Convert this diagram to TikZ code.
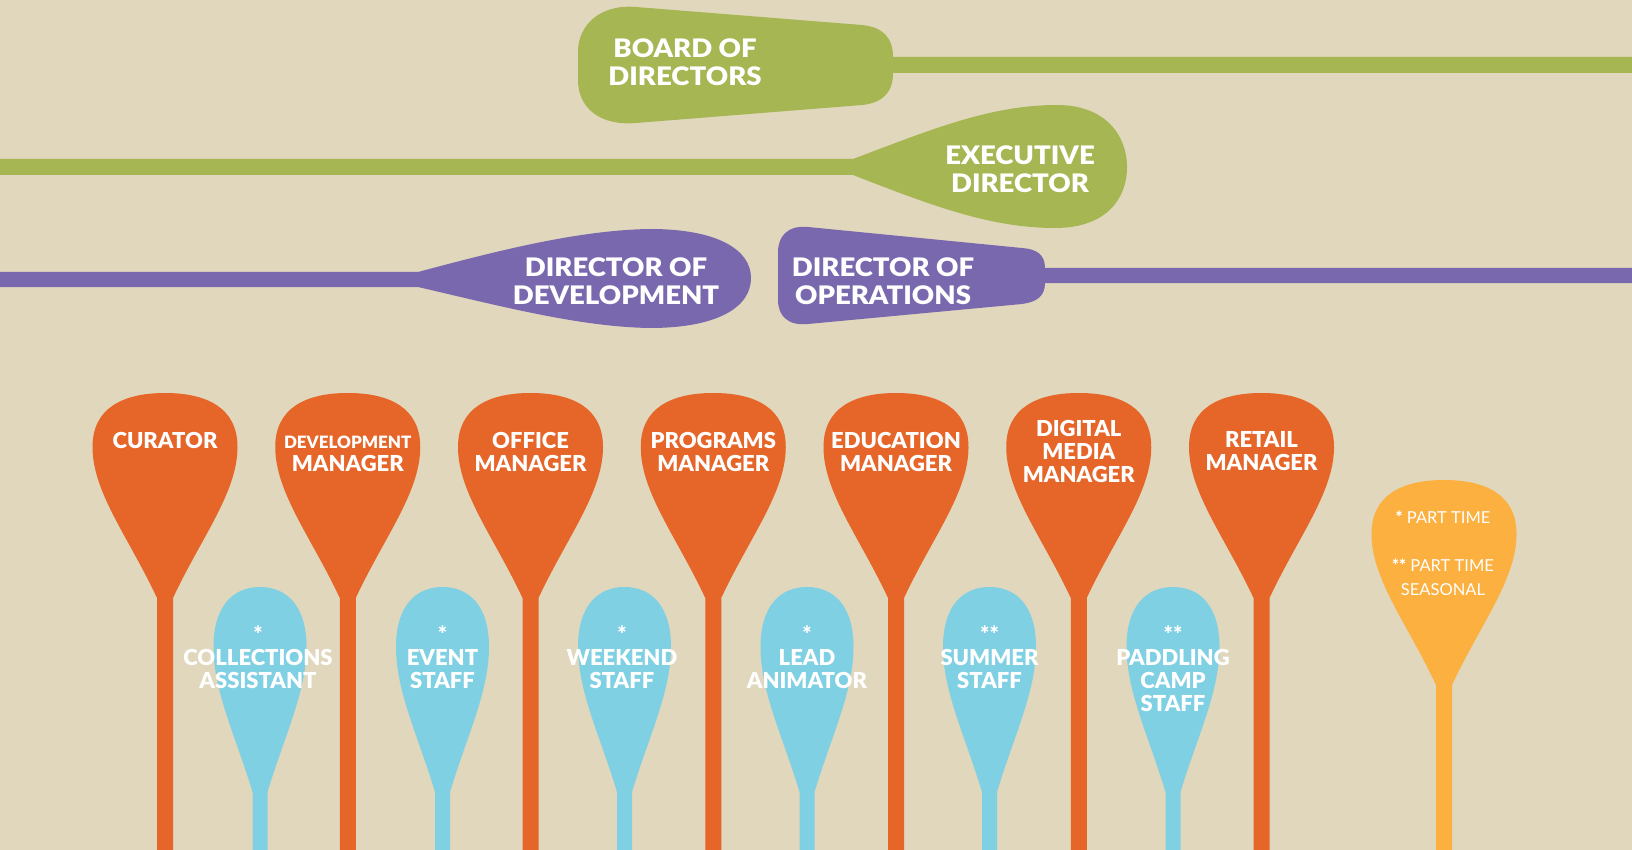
\documentclass[tikz,border=0pt]{standalone}
\usepackage{fontspec}
\setmainfont{Lato}[BoldFont={Lato Black}]
\newfontfamily\dirfont{Lato}[BoldFont={Lato Black}, FakeStretch=1.08]
\usepackage{tikz}
\definecolor{sand}{RGB}{224,215,188}
\definecolor{boardgreen}{RGB}{165,182,83}
\definecolor{dirpurple}{RGB}{122,104,174}
\definecolor{mgrorange}{RGB}{230,101,40}
\definecolor{staffblue}{RGB}{128,208,227}
\definecolor{notegold}{RGB}{251,176,64}

\begin{document}
\begin{tikzpicture}[x=1pt, y=-1pt,
	every node/.style={text=white, inner sep=0pt, align=center, font=\bfseries\fontsize{22}{23}\selectfont},
	director/.style={font=\dirfont\bfseries\fontsize{25.5}{28}\selectfont},
	note/.style={font=\fontsize{16.5}{24}\selectfont},
	blade/.pic={\fill[#1] (-8,205) .. controls (-36,145) and (-72,100) .. (-72.5,55)
		.. controls (-73,15) and (-42,0) .. (0,0)
		.. controls (42,0) and (73,15) .. (72.5,55)
		.. controls (72,100) and (36,145) .. (8,205) -- (8,470) -- (-8,470) -- cycle;},
	thinblade/.pic={\fill[#1] (-7.5,205) .. controls (-24,150) and (-46.5,105) .. (-46.5,60)
		.. controls (-46.5,18) and (-26,0) .. (0,0)
		.. controls (26,0) and (46.5,18) .. (46.5,60)
		.. controls (46.5,105) and (24,150) .. (7.5,205) -- (7.5,300) -- (-7.5,300) -- cycle;}]
	\useasboundingbox (0,0) rectangle (1632,850);
	\clip (0,0) rectangle (1632,850);
	\fill[sand] (0,0) rectangle (1632,850);

	% top three levels
	\fill[boardgreen] (893,57) .. controls (893,37) and (882,27) .. (862,25) -- (636,7)
		.. controls (600,4) and (578,25) .. (578,52) -- (578,80)
		.. controls (578,108) and (600,126) .. (636,123) -- (862,105)
		.. controls (882,103) and (893,93) .. (893,73) -- (1632,73) -- (1632,57) -- cycle;
	\fill[boardgreen] (0,159) -- (853,159) .. controls (930,130) and (990,105) .. (1057,105)
		.. controls (1105,105) and (1127,135) .. (1127,167)
		.. controls (1127,200) and (1105,228) .. (1055,228)
		.. controls (990,228) and (930,205) .. (853,175) -- (0,175) -- cycle;
	\fill[dirpurple] (0,272) -- (418,272) .. controls (500,250) and (580,230) .. (650,229)
		.. controls (718,229) and (751,250) .. (751,278)
		.. controls (751,308) and (716,328) .. (650,328)
		.. controls (580,327) and (500,306) .. (418,287) -- (0,287) -- cycle;
	\fill[dirpurple] (1045,268) .. controls (1045,255) and (1037,249) .. (1022,248) -- (808,227)
		.. controls (788,225) and (778,236) .. (778,252) -- (778,300)
		.. controls (778,316) and (788,326) .. (808,324) -- (1022,304)
		.. controls (1037,302) and (1045,296) .. (1045,283) -- (1632,283) -- (1632,268) -- cycle;
	\node[director] (board) at (685,62) {BOARD OF\\DIRECTORS};
	\node[director] (exec) at (1020,169.5) {EXECUTIVE\\DIRECTOR};
	\node[director] (devdir) at (616,281) {DIRECTOR OF\\DEVELOPMENT};
	\node[director] (opsdir) at (883,281) {DIRECTOR OF\\OPERATIONS};

	% managers
	\pic at (165,393) {blade=mgrorange};
	\pic at (347.75,393) {blade=mgrorange};
	\pic at (530.5,393) {blade=mgrorange};
	\pic at (713.25,393) {blade=mgrorange};
	\pic at (896,393) {blade=mgrorange};
	\pic at (1078.75,393) {blade=mgrorange};
	\pic at (1261.5,393) {blade=mgrorange};
	\node (curator) at (165,440) {CURATOR};
	\node (devmgr) at (347.75,454) {{\fontsize{17}{23}\selectfont DEVELOPMENT}\\MANAGER};
	\node (officemgr) at (530.5,451.5) {OFFICE\\MANAGER};
	\node (progmgr) at (713.25,451.5) {PROGRAMS\\MANAGER};
	\node (edumgr) at (896,451.5) {EDUCATION\\MANAGER};
	\node (mediamgr) at (1078.75,451) {DIGITAL\\MEDIA\\MANAGER};
	\node (retailmgr) at (1261.5,451.5) {RETAIL\\MANAGER};

	% staff
	\pic at (260,587) {thinblade=staffblue};
	\pic at (442.5,587) {thinblade=staffblue};
	\pic at (624.5,587) {thinblade=staffblue};
	\pic at (807,587) {thinblade=staffblue};
	\pic at (989.5,587) {thinblade=staffblue};
	\pic at (1173,587) {thinblade=staffblue};
	\node (collections) at (258,657) {*\\COLLECTIONS\\ASSISTANT};
	\node (event) at (442.5,657) {*\\EVENT\\STAFF};
	\node (weekend) at (622,657) {*\\WEEKEND\\STAFF};
	\node (animator) at (807,657) {*\\LEAD\\ANIMATOR};
	\node (summer) at (989.5,657) {**\\SUMMER\\STAFF};
	\node (camp) at (1173,668.5) {**\\PADDLING\\CAMP\\STAFF};

	% legend
	\pic at (1444,480) {blade=notegold};
	\node[note] (legend) at (1443,553) {\textbf{*} PART TIME\\[24pt]\textbf{**} PART TIME\\SEASONAL};
\end{tikzpicture}
\end{document}
